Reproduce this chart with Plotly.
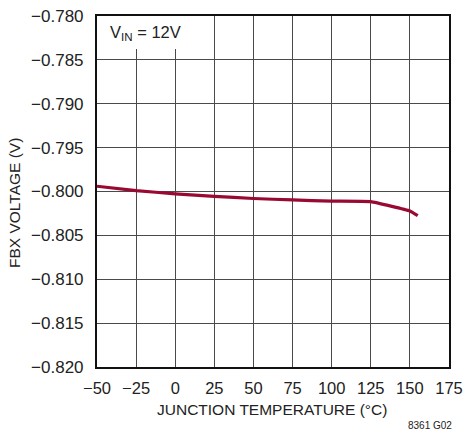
import plotly.graph_objects as go

temp_c = [-50, -25, 0, 25, 50, 75, 100, 125, 150, 155]
fbx_v = [-0.7994, -0.7999, -0.80027, -0.80055, -0.8008, -0.80096, -0.8011, -0.80115, -0.80222, -0.80275]

x_ticks = [-50, -25, 0, 25, 50, 75, 100, 125, 150, 175]
y_ticks = [-0.780, -0.785, -0.790, -0.795, -0.800, -0.805, -0.810, -0.815, -0.820]
y_labels = ["\u22120.780", "\u22120.785", "\u22120.790", "\u22120.795", "\u22120.800",
            "\u22120.805", "\u22120.810", "\u22120.815", "\u22120.820"]
x_labels = [("\u2212" + str(-v)) if v < 0 else str(v) for v in x_ticks]

FONT = "Liberation Sans, Arial, sans-serif"
TXT = "#222"

fig = go.Figure()
fig.add_trace(go.Scatter(x=temp_c, y=fbx_v, mode="lines",
                         line=dict(color="#990a33", width=3.2, shape="spline", smoothing=0.3),
                         hoverinfo="skip", showlegend=False))

fig.update_layout(
    width=465, height=436,
    margin=dict(l=97, r=16, t=16, b=69, autoexpand=False),
    paper_bgcolor="white", plot_bgcolor="white",
    font=dict(family=FONT, size=16, color=TXT),
    showlegend=False,
)
fig.update_xaxes(range=[-50, 175], tickvals=x_ticks, ticktext=x_labels,
                 showgrid=True, gridcolor="#4a4a4a", gridwidth=1,
                 showline=True, linecolor="#111", linewidth=2, mirror=True,
                 zeroline=False, ticks="", ticklabelstandoff=5, automargin=False,
                 tickfont=dict(size=16.5, family=FONT, color=TXT))
fig.update_yaxes(range=[-0.820, -0.780], tickvals=y_ticks, ticktext=y_labels,
                 showgrid=True, gridcolor="#4a4a4a", gridwidth=1,
                 showline=True, linecolor="#111", linewidth=2, mirror=True,
                 zeroline=False, ticks="", ticklabelstandoff=8, automargin=False,
                 tickfont=dict(size=17, family=FONT, color=TXT))

# white backing box behind the V_IN label
fig.add_shape(type="rect", xref="x", yref="y", x0=-50, x1=20, y0=-0.78375, y1=-0.780,
              fillcolor="white", line=dict(width=0), layer="between")

fig.add_annotation(xref="paper", yref="paper", x=(108 - 97) / 352, y=1 - (33 - 16) / 351,
                   xanchor="left", yanchor="middle", showarrow=False,
                   text="V<sub>IN</sub> = 12V", font=dict(size=16.5, family=FONT, color=TXT))

fig.add_annotation(xref="paper", yref="paper", x=(272 - 97) / 352, y=-(409 - 367) / 351,
                   xanchor="center", yanchor="middle", showarrow=False,
                   text="JUNCTION TEMPERATURE (\u00b0C)", font=dict(size=15.5, family=FONT, color=TXT))

fig.add_annotation(xref="paper", yref="paper", x=(15 - 97) / 352, y=1 - (203 - 16) / 351,
                   xanchor="center", yanchor="middle", showarrow=False, textangle=-90,
                   text="FBX VOLTAGE (V)", font=dict(size=15.5, family=FONT, color=TXT))

fig.add_annotation(xref="paper", yref="paper", x=(430 - 97) / 352, y=-(425 - 367) / 351,
                   xanchor="center", yanchor="middle", showarrow=False,
                   text="8361 G02", font=dict(size=10, family=FONT, color=TXT))

fig.write_html("out.html", config={"displayModeBar": False},
               post_script="document.body.style.margin='0';")
